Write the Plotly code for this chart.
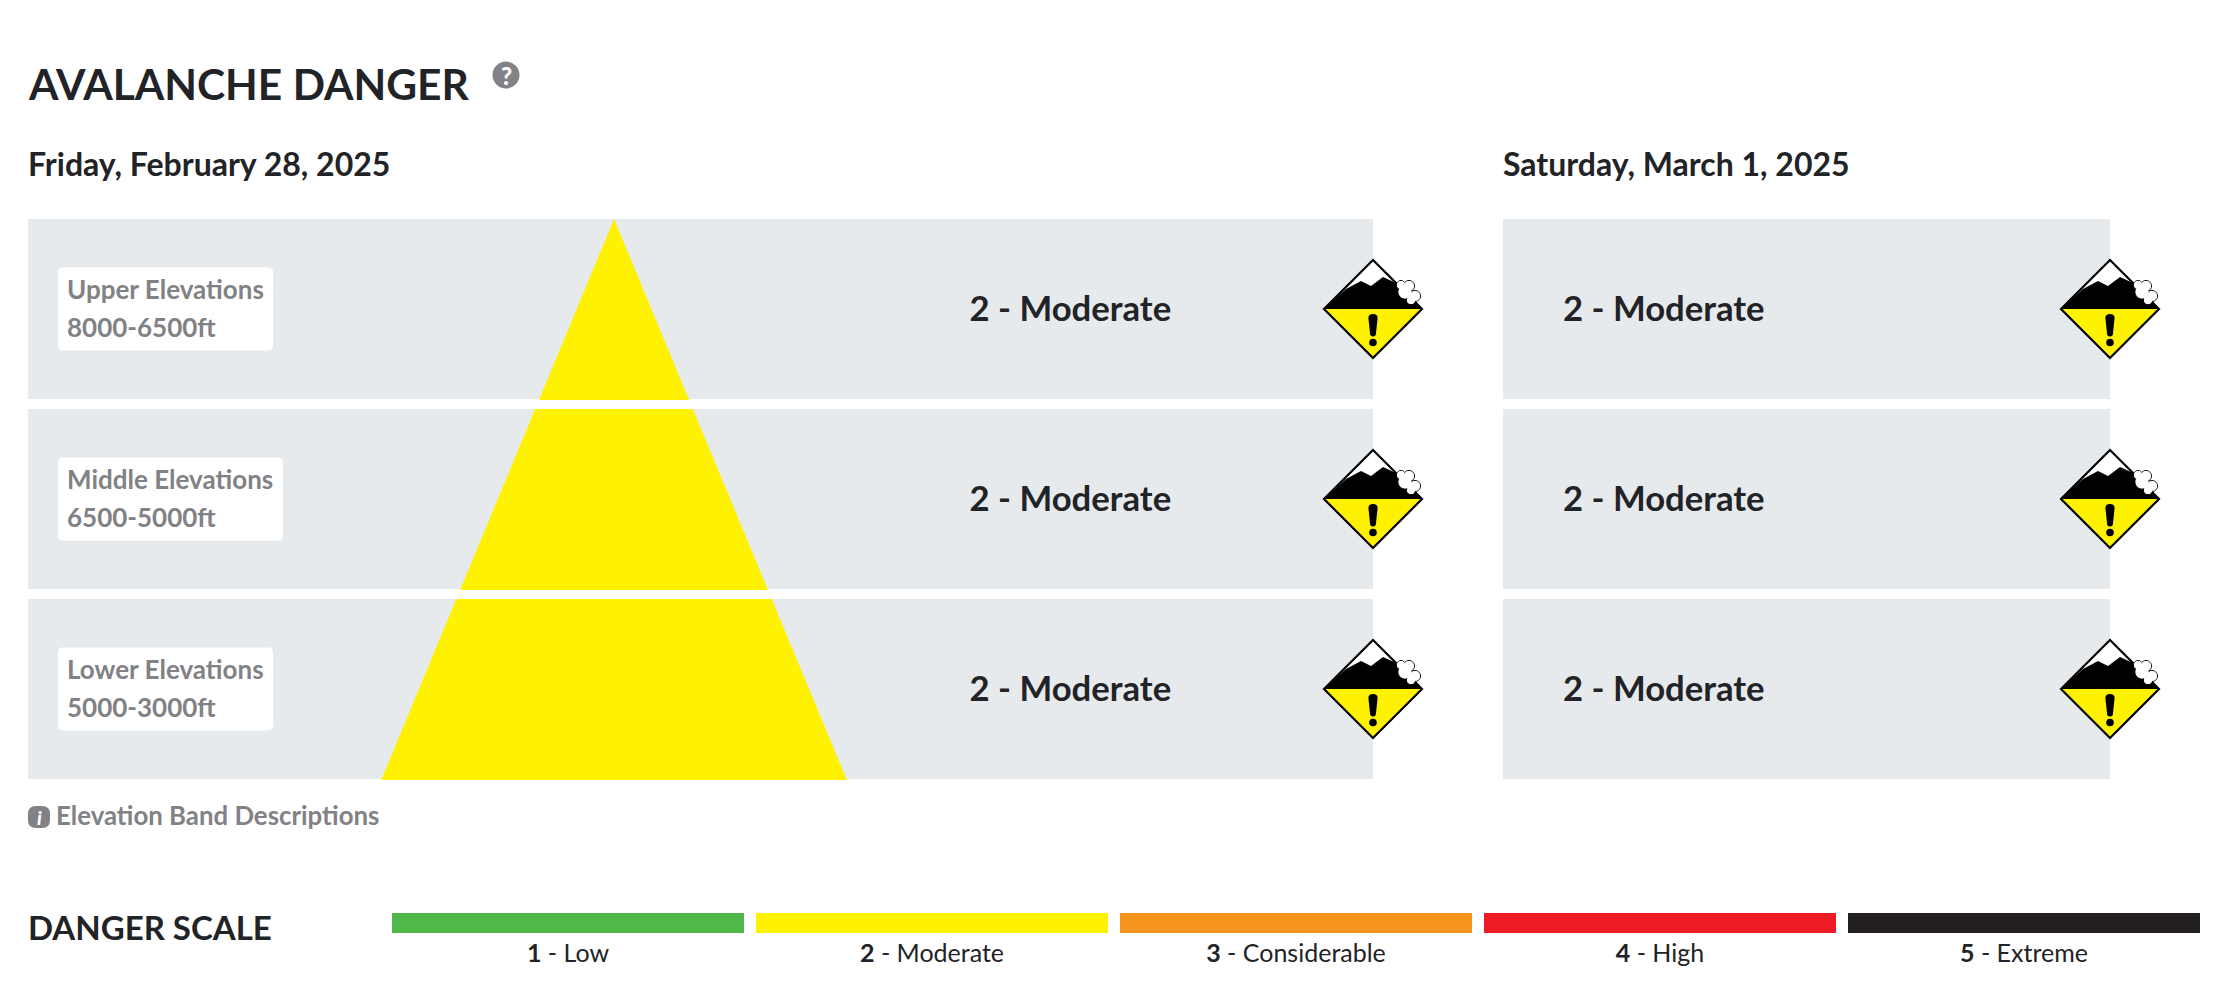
"""Avalanche danger forecast panel rebuilt with Plotly."""

import plotly.graph_objects as go

# forecast data
elevation_bands = ['Upper Elevations', 'Middle Elevations', 'Lower Elevations']
elevation_ranges = ['8000-6500ft', '6500-5000ft', '5000-3000ft']
friday_levels = [2, 2, 2]
saturday_levels = [2, 2, 2]
day_labels = ['Friday, February 28, 2025', 'Saturday, March 1, 2025']

# danger scale
scale_numbers = [1, 2, 3, 4, 5]
scale_names = ['Low', 'Moderate', 'Considerable', 'High', 'Extreme']
scale_heights = [1, 1, 1, 1, 1]

# page geometry, in browser pixels
W, H = 2226, 986
BODY_MARGIN = 8  # the default page body margin around the plot div
FRI_X = (28, 1373)
SAT_X = (1503, 2110)
ROWS_Y = (214, 784)
ROW_PX = 190
BAND_PX = 180
SCALE_X = (386, 2206)
SCALE_Y = (913, 933)
SCALE_GAP = 12

# colours
INK = '#222326'
GRAY = '#808285'
PANEL = '#E7EAED'
SCALE_COLORS = ['#50B848', '#FFF200', '#F7941E', '#ED1C24', '#231F20']
FONT = 'Lato'

PLOT_W = W - 2 * BODY_MARGIN
PLOT_H = H - 2 * BODY_MARGIN


def dom_x(a, b):
    return [(a - BODY_MARGIN) / PLOT_W, (b - BODY_MARGIN) / PLOT_W]


def dom_y(a, b):
    return [1 - (b - BODY_MARGIN) / PLOT_H, 1 - (a - BODY_MARGIN) / PLOT_H]


def polygon(points):
    return 'M' + ' L'.join(f'{x:.2f},{y:.2f}' for x, y in points) + ' Z'


def page_shape(path, fill, line_color=None, line_width=0):
    return dict(type='path', path=path, xref='x', yref='y', layer='above',
                fillcolor=fill, line=dict(color=line_color or fill, width=line_width))


def page_circle(cx, cy, r, fill, line_color=None, line_width=0):
    return dict(type='circle', xref='x', yref='y', layer='above',
                x0=cx - r, x1=cx + r, y0=cy - r, y1=cy + r,
                fillcolor=fill, line=dict(color=line_color or fill, width=line_width))


def rounded_box(x0, y0, x1, y1, r):
    return (f'M{x0 + r},{y0} L{x1 - r},{y0} Q{x1},{y0} {x1},{y0 + r} '
            f'L{x1},{y1 - r} Q{x1},{y1} {x1 - r},{y1} L{x0 + r},{y1} '
            f'Q{x0},{y1} {x0},{y1 - r} L{x0},{y0 + r} Q{x0},{y0} {x0 + r},{y0} Z')


def danger_icon(cx, cy, level):
    """Diamond danger icon centred on a page position."""
    def at(points):
        return [(cx + x, cy + y) for x, y in points]

    color = SCALE_COLORS[level - 1]
    r = 49
    shapes = [
        page_shape(polygon(at([(0, -r), (r, 0), (-r, 0)])), 'white'),
        page_shape(polygon(at([(-r, 0), (-27, -20), (-12, -28), (-2, -23), (10, -32),
                               (23, -26), (r, 0)])), 'black'),
        page_shape(polygon(at([(-r, 0), (r, 0), (0, r)])), color),
        page_shape(polygon(at([(0, -r), (r, 0), (0, r), (-r, 0)])), 'rgba(0,0,0,0)', 'black', 2.2),
    ]
    # powder cloud on the right shoulder
    bumps = [(28, -24, 4.5), (36, -23, 5.5), (42, -13, 5.5), (38, -9, 4.5), (32, -17, 7)]
    for bx, by, br in bumps:
        shapes.append(page_circle(cx + bx, cy + by, br, 'white', 'black', 1))
    for bx, by, br in bumps:
        shapes.append(page_circle(cx + bx, cy + by, br - 0.5, 'white'))
    # exclamation mark
    bang = (f'M{cx - 4.6},{cy + 9} Q{cx - 4.6},{cy + 5} {cx},{cy + 5} Q{cx + 4.6},{cy + 5} {cx + 4.6},{cy + 9} '
            f'L{cx + 2.8},{cy + 26} Q{cx},{cy + 29} {cx - 2.8},{cy + 26} Z')
    shapes.append(page_shape(bang, 'black'))
    shapes.append(page_circle(cx, cy + 33.5, 3.8, 'black'))
    return shapes


def page_text(text, x, y, size, color=INK, weight=400, anchor='left'):
    return dict(text=text, x=x, y=y, xref='x', yref='y', xanchor=anchor, yanchor='middle',
                showarrow=False, font=dict(family=FONT, size=size, color=color, weight=weight))


fig = go.Figure()
rows = list(range(len(elevation_bands)))
band_width = BAND_PX / ROW_PX

# page-wide axes carry the icons and free text
fig.add_trace(go.Scatter(x=[BODY_MARGIN], y=[BODY_MARGIN], mode='markers', marker=dict(opacity=0),
                         xaxis='x', yaxis='y', hoverinfo='skip'))

# grey elevation bands for both days
for axis_id, levels in (('2', friday_levels), ('3', saturday_levels)):
    fig.add_trace(go.Bar(
        x=[1] * len(rows), y=rows, orientation='h', width=band_width,
        marker=dict(color=PANEL, line=dict(width=0)),
        xaxis='x' + axis_id, yaxis='y' + axis_id,
        customdata=elevation_bands, hovertemplate='%{customdata}<extra></extra>',
    ))

# pyramid, one slice for each elevation band on Friday
PYRAMID_CENTER = 0.4357
PYRAMID_SLOPE = 0.415 * ROW_PX / (FRI_X[1] - FRI_X[0])
apex = -band_width / 2
for i, level in zip(rows, friday_levels):
    top = i - band_width / 2
    bottom = i + band_width / 2 + 1 / ROW_PX
    half_top = PYRAMID_SLOPE * (top - apex)
    half_bottom = PYRAMID_SLOPE * (bottom - apex)
    fig.add_trace(go.Scatter(
        x=[PYRAMID_CENTER - half_top, PYRAMID_CENTER + half_top,
           PYRAMID_CENTER + half_bottom, PYRAMID_CENTER - half_bottom],
        y=[top, top, bottom, bottom],
        mode='none', fill='toself', fillcolor=SCALE_COLORS[level - 1],
        xaxis='x2', yaxis='y2', hoverinfo='skip',
    ))

# danger rating text in each band, nudged slightly under the row centre
TEXT_DROP = 3 / ROW_PX
for axis_id, levels, text_x in (('2', friday_levels, 0.7), ('3', saturday_levels, 0.0988)):
    fig.add_trace(go.Scatter(
        x=[text_x] * len(rows), y=[r + TEXT_DROP for r in rows], mode='text',
        text=[f'{lv} - {scale_names[lv - 1]}' for lv in levels],
        textposition='middle right',
        textfont=dict(family=FONT, size=34.7, color=INK, weight=700),
        xaxis='x' + axis_id, yaxis='y' + axis_id, hoverinfo='skip',
    ))

# danger scale strip
fig.add_trace(go.Bar(
    x=scale_names, y=scale_heights, width=1 - SCALE_GAP / ((SCALE_X[1] - SCALE_X[0]) / 5),
    marker=dict(color=SCALE_COLORS, line=dict(width=0)),
    xaxis='x4', yaxis='y4', hovertemplate='%{x}<extra></extra>',
))

hidden = dict(visible=False, fixedrange=True, showgrid=False, zeroline=False)
rows_axis = dict(hidden, range=[rows[-1] + 0.5, -0.5], domain=dom_y(*ROWS_Y))

fig.update_layout(
    width=PLOT_W, height=PLOT_H,
    autosize=False,
    margin=dict(l=0, r=0, t=0, b=0),
    paper_bgcolor='white', plot_bgcolor='rgba(0,0,0,0)',
    showlegend=False,
    xaxis=dict(hidden, range=[BODY_MARGIN, W - BODY_MARGIN], domain=[0, 1]),
    yaxis=dict(hidden, range=[H - BODY_MARGIN, BODY_MARGIN], domain=[0, 1]),
    xaxis2=dict(hidden, range=[0, 1], domain=dom_x(*FRI_X), anchor='y2'),
    yaxis2=dict(rows_axis, anchor='x2'),
    xaxis3=dict(hidden, range=[0, 1], domain=dom_x(*SAT_X), anchor='y3'),
    yaxis3=dict(rows_axis, anchor='x3'),
    xaxis4=dict(
        domain=dom_x(*SCALE_X), anchor='y4', type='category', fixedrange=True,
        showgrid=False, zeroline=False, showline=False, ticks='', ticklen=0,
        ticklabelstandoff=3,
        tickmode='array', tickvals=scale_names,
        ticktext=[f'<b>{n}</b> - {name}' for n, name in zip(scale_numbers, scale_names)],
        tickfont=dict(family=FONT, size=25, color=INK),
    ),
    yaxis4=dict(hidden, range=[0, 1], domain=dom_y(*SCALE_Y), anchor='x4'),
)

# chips, icons and help badges sit on top of the bands
# annotations pad their text, so left-aligned ones start a little before the panel edge
TEXT_LEFT = 28 - 2.5
shapes = []
annotations = [
    page_text('AVALANCHE DANGER', TEXT_LEFT, 83, 42.5, weight=700),
    page_text(day_labels[0], TEXT_LEFT, 163, 32, weight=700),
    page_text(day_labels[1], 1503 - 2.5, 163, 32, weight=700),
    page_text('Elevation Band Descriptions', 54, 815, 25.8, color=GRAY, weight=700),
    page_text('DANGER SCALE', TEXT_LEFT, 927, 33, weight=700),
    page_text('?', 506, 75, 24, color='white', weight=900, anchor='center'),
    page_text('<i>i</i>', 39, 817, 19, color='white', weight=900, anchor='center'),
]
shapes.append(page_circle(506, 75, 13.5, GRAY))
shapes.append(page_shape(rounded_box(28, 806, 50, 828, 8), GRAY))

chip_right = [273, 283, 273]
for i, (band, elev) in enumerate(zip(elevation_bands, elevation_ranges)):
    mid = ROWS_Y[0] + ROW_PX * (i + 0.5)
    shapes.append(page_shape(rounded_box(58, mid - 41.5, chip_right[i], mid + 41.5, 5), 'white'))
    annotations.append(page_text(band, 65, mid - 20, 26, color=GRAY, weight=700))
    annotations.append(page_text(elev, 65, mid + 18, 26, color=GRAY, weight=700))
    shapes += danger_icon(FRI_X[1], mid, friday_levels[i])
    shapes += danger_icon(SAT_X[1], mid, saturday_levels[i])

fig.update_layout(shapes=shapes, annotations=annotations)

fig.write_html("out.html")
